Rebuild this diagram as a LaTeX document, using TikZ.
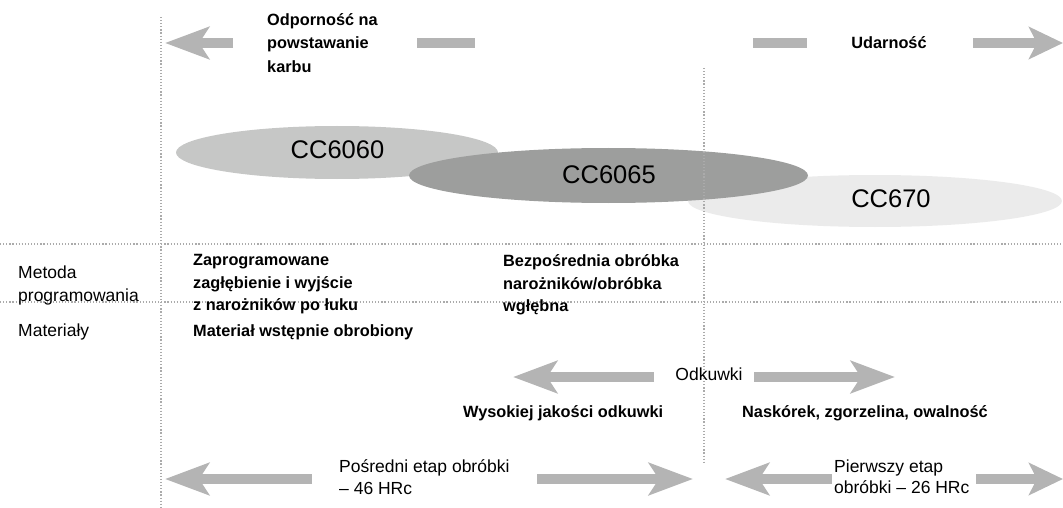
\documentclass[tikz,border=0pt]{standalone}
\usepackage{fontspec}
\setmainfont{Liberation Sans}
\usepackage{tikz}
\usetikzlibrary{arrows.meta,positioning,calc}

\definecolor{arrgray}{HTML}{B4B4B4}
\definecolor{dotgray}{HTML}{ABABAB}
\definecolor{cclight}{HTML}{C6C7C6}
\definecolor{ccdark}{HTML}{9D9E9D}
\definecolor{ccpale}{HTML}{EBEBEB}

\tikzset{
  dotline/.style={dotgray, line width=1.2pt, dash pattern=on 1.2pt off 1.9pt},
  bigarr/.style={draw=arrgray, line width=10pt, -{Stealth[length=44pt,width=32pt,inset=10pt]}},
  edgearr/.style={draw=arrgray, line width=10pt, -{Stealth[length=34pt,width=32pt,inset=8pt]}},
  dashbar/.style={draw=arrgray, line width=10pt},
  plain/.style={inner sep=0pt, align=left, font=\fontsize{17.5}{21.5}\selectfont},
  heavy/.style={inner sep=0pt, align=left, font=\bfseries\fontsize{16.3}{23.5}\selectfont},
  ccname/.style={inner sep=0pt, font=\fontsize{25.5}{30}\selectfont}
}

\begin{document}
\begin{tikzpicture}[x=1pt,y=-1pt]
\useasboundingbox (0,0) rectangle (1063,508);

% grades
\fill[ccpale] (875,201) ellipse [x radius=187, y radius=26];
\fill[cclight] (337,152.5) ellipse [x radius=161, y radius=26.5];
\fill[ccdark] (608.5,175.5) ellipse [x radius=199.5, y radius=27.5];
\node[ccname, anchor=base] (cc6060) at (337.5,159) {CC6060};
\node[ccname, anchor=base] (cc6065) at (609,183) {CC6065};
\node[ccname, anchor=base] (cc670) at (891,207) {CC670};

% dotted frame
\draw[dotline] (161,17) -- (161,508);
\draw[dotline] (704,68) -- (704,463);
\draw[dotline] (0,244) -- (1063,244);
\draw[dotline] (0,302) -- (1063,302);

% top row
\coordinate (karbtip) at (165,43);
\coordinate (karbend) at (233,43);
\draw[bigarr] (karbend) -- (karbtip);
\draw[dashbar] (417,43) -- (475,43);
\node[heavy, anchor=north west] (karb) at (267,13) {Odporność na\\powstawanie\\karbu};
\draw[dashbar] (753,43) -- (807,43);
\node[heavy, anchor=base] (udar) at (889,49) {Udarność};
\coordinate (udarend) at (973,43);
\coordinate (udartip) at (1063,43);
\draw[edgearr] (udarend) -- (udartip);

% programming row
\node[plain, anchor=north west, font=\fontsize{17.5}{23}\selectfont] (metoda) at (18,266) {Metoda\\programowania};
\node[heavy, anchor=north west, font=\bfseries\fontsize{16.3}{22.5}\selectfont] (zaprog) at (193,254.5) {Zaprogramowane\\zagłębienie i wyjście\\z narożników po łuku};
\node[heavy, anchor=north west, font=\bfseries\fontsize{16.3}{22.5}\selectfont] (bezpo) at (503,254.5) {Bezpośrednia obróbka\\narożników/obróbka\\wgłębna};

% material row
\node[plain, anchor=base west] (mater) at (18,336) {Materiały};
\node[heavy, anchor=base west] (wstep) at (193,336) {Materiał wstępnie obrobiony};
\node[plain, anchor=base] (odkuwki) at (709,380) {Odkuwki};
\coordinate (odkl) at (513,377);
\coordinate (odkr) at (895,377);
\draw[bigarr] (654,377) -- (odkl);
\draw[bigarr] (754,377) -- (odkr);
\node[heavy, anchor=base west] (wysok) at (463,417) {Wysokiej jakości odkuwki};
\node[heavy, anchor=base west] (naskor) at (742,417) {Naskórek, zgorzelina, owalność};

% hardness row
\node[plain, anchor=north west] (posred) at (339,459.5) {Pośredni etap obróbki\\– 46 HRc};
\coordinate (posl) at (165,479);
\coordinate (posr) at (693,479);
\draw[bigarr] (312,479) -- (posl);
\draw[bigarr] (537,479) -- (posr);
\node[plain, anchor=north west] (pierw) at (834,459.5) {Pierwszy etap\\obróbki – 26 HRc};
\coordinate (pierl) at (725,479);
\coordinate (pierr) at (1063,479);
\draw[bigarr] (832,479) -- (pierl);
\draw[edgearr] (976,479) -- (pierr);
\end{tikzpicture}
\end{document}
